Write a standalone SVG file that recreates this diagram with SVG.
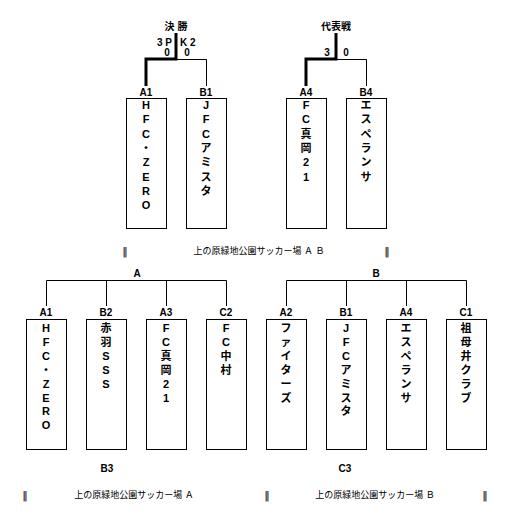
<svg xmlns="http://www.w3.org/2000/svg" width="517" height="529" viewBox="0 0 517 529">
<style>
text{font-family:"Liberation Sans","Noto Sans CJK JP",sans-serif;font-weight:bold;font-size:10px;fill:#000;text-anchor:middle}
.v{font-size:11px}
.s{font-weight:normal;font-size:9px}
.bar{font-family:"DejaVu Sans",sans-serif;font-weight:normal;font-size:11px}
.box{fill:#fff;stroke:#000;stroke-width:1}
.thin{fill:none;stroke:#000;stroke-width:1}
.thick{fill:none;stroke:#000;stroke-width:3}
</style>
<rect width="517" height="529" fill="#fff"/>
<g id="connectors">
<path class="thin" d="M176.5 33V59.5H206.5V86"/>
<path class="thick" d="M176 33V59H146V86"/>
<path class="thin" d="M336.5 33V59.5H366.5V86"/>
<path class="thick" d="M336 33V59H306V86"/>
<path class="thin" d="M46.5 306V280.5H226.5V306M106.5 280.5V306M166.5 280.5V306"/>
<path class="thin" d="M286.5 306V280.5H466.5V306M346.5 280.5V306M406.5 280.5V306"/>
</g>
<g id="final">
<text x="176" y="30">決 勝</text>
<text x="172" y="46" style="text-anchor:end">3 P</text>
<text x="180" y="46" style="text-anchor:start">K 2</text>
<text x="167" y="56">0</text>
<text x="187" y="56">0</text>
</g>
<g id="rep">
<text x="336" y="30">代表戦</text>
<text x="327" y="56">3</text>
<text x="346" y="56">0</text>
</g>
<g id="top-A1">
<text x="146" y="96">A1</text>
<rect class="box" x="126.5" y="98.5" width="40" height="130"/>
<text class="v"><tspan x="146" y="109">H</tspan><tspan x="146" dy="14.3">F</tspan><tspan x="146" dy="14.3">C</tspan><tspan x="146" dy="14.3">・</tspan><tspan x="146" dy="14.3">Z</tspan><tspan x="146" dy="14.3">E</tspan><tspan x="146" dy="14.3">R</tspan><tspan x="146" dy="14.3">O</tspan></text>
</g>
<g id="top-B1">
<text x="206" y="96">B1</text>
<rect class="box" x="186.5" y="98.5" width="40" height="130"/>
<text class="v"><tspan x="206" y="109">J</tspan><tspan x="206" dy="14.3">F</tspan><tspan x="206" dy="14.3">C</tspan><tspan x="206" dy="14.3">ア</tspan><tspan x="206" dy="14.3">ミ</tspan><tspan x="206" dy="14.3">ス</tspan><tspan x="206" dy="14.3">タ</tspan></text>
</g>
<g id="top-A4">
<text x="306" y="96">A4</text>
<rect class="box" x="286.5" y="98.5" width="40" height="130"/>
<text class="v"><tspan x="306" y="109">F</tspan><tspan x="306" dy="14.3">C</tspan><tspan x="306" dy="14.3">真</tspan><tspan x="306" dy="14.3">岡</tspan><tspan x="306" dy="14.3">2</tspan><tspan x="306" dy="14.3">1</tspan></text>
</g>
<g id="top-B4">
<text x="366" y="96">B4</text>
<rect class="box" x="346.5" y="98.5" width="40" height="130"/>
<text class="v"><tspan x="366" y="109">エ</tspan><tspan x="366" dy="14.3">ス</tspan><tspan x="366" dy="14.3">ペ</tspan><tspan x="366" dy="14.3">ラ</tspan><tspan x="366" dy="14.3">ン</tspan><tspan x="366" dy="14.3">サ</tspan></text>
</g>
<g id="venue-top">
<text class="bar" x="125" y="255">‖</text>
<text class="s" x="259" y="254">上の原緑地公園サッカー場 Ａ Ｂ</text>
<text class="bar" x="387" y="255">‖</text>
</g>
<g id="groupA">
<text x="137" y="277">A</text>
</g>
<g id="bot-A1">
<text x="46" y="316">A1</text>
<rect class="box" x="26.5" y="319.5" width="40" height="130"/>
<text class="v"><tspan x="46" y="332">H</tspan><tspan x="46" dy="13.9">F</tspan><tspan x="46" dy="13.9">C</tspan><tspan x="46" dy="13.9">・</tspan><tspan x="46" dy="13.9">Z</tspan><tspan x="46" dy="13.9">E</tspan><tspan x="46" dy="13.9">R</tspan><tspan x="46" dy="13.9">O</tspan></text>
</g>
<g id="bot-B2">
<text x="106" y="316">B2</text>
<rect class="box" x="86.5" y="319.5" width="40" height="130"/>
<text class="v"><tspan x="106" y="332">赤</tspan><tspan x="106" dy="13.9">羽</tspan><tspan x="106" dy="13.9">S</tspan><tspan x="106" dy="13.9">S</tspan><tspan x="106" dy="13.9">S</tspan></text>
</g>
<g id="bot-A3">
<text x="166" y="316">A3</text>
<rect class="box" x="146.5" y="319.5" width="40" height="130"/>
<text class="v"><tspan x="166" y="332">F</tspan><tspan x="166" dy="13.9">C</tspan><tspan x="166" dy="13.9">真</tspan><tspan x="166" dy="13.9">岡</tspan><tspan x="166" dy="13.9">2</tspan><tspan x="166" dy="13.9">1</tspan></text>
</g>
<g id="bot-C2">
<text x="226" y="316">C2</text>
<rect class="box" x="206.5" y="319.5" width="40" height="130"/>
<text class="v"><tspan x="226" y="332">F</tspan><tspan x="226" dy="13.9">C</tspan><tspan x="226" dy="13.9">中</tspan><tspan x="226" dy="13.9">村</tspan></text>
</g>
<g id="groupB">
<text x="376" y="277">B</text>
</g>
<g id="bot-A2">
<text x="286" y="316">A2</text>
<rect class="box" x="266.5" y="319.5" width="40" height="130"/>
<text class="v"><tspan x="286" y="332">フ</tspan><tspan x="286" dy="13.9">ァ</tspan><tspan x="286" dy="13.9">イ</tspan><tspan x="286" dy="13.9">タ</tspan><tspan x="286" dy="13.9">ー</tspan><tspan x="286" dy="13.9">ズ</tspan></text>
</g>
<g id="bot-B1">
<text x="346" y="316">B1</text>
<rect class="box" x="326.5" y="319.5" width="40" height="130"/>
<text class="v"><tspan x="346" y="332">J</tspan><tspan x="346" dy="13.9">F</tspan><tspan x="346" dy="13.9">C</tspan><tspan x="346" dy="13.9">ア</tspan><tspan x="346" dy="13.9">ミ</tspan><tspan x="346" dy="13.9">ス</tspan><tspan x="346" dy="13.9">タ</tspan></text>
</g>
<g id="bot-A4">
<text x="406" y="316">A4</text>
<rect class="box" x="386.5" y="319.5" width="40" height="130"/>
<text class="v"><tspan x="406" y="332">エ</tspan><tspan x="406" dy="13.9">ス</tspan><tspan x="406" dy="13.9">ペ</tspan><tspan x="406" dy="13.9">ラ</tspan><tspan x="406" dy="13.9">ン</tspan><tspan x="406" dy="13.9">サ</tspan></text>
</g>
<g id="bot-C1">
<text x="466" y="316">C1</text>
<rect class="box" x="446.5" y="319.5" width="40" height="130"/>
<text class="v"><tspan x="466" y="332">祖</tspan><tspan x="466" dy="13.9">母</tspan><tspan x="466" dy="13.9">井</tspan><tspan x="466" dy="13.9">ク</tspan><tspan x="466" dy="13.9">ラ</tspan><tspan x="466" dy="13.9">ブ</tspan></text>
</g>
<g id="note-B3"><text x="107" y="472">B3</text></g>
<g id="note-C3"><text x="345" y="472">C3</text></g>
<g id="venue-A">
<text class="bar" x="25" y="499">‖</text>
<text class="s" x="134" y="498">上の原緑地公園サッカー場 Ａ</text>
</g>
<g id="venue-B">
<text class="bar" x="267" y="499">‖</text>
<text class="s" x="375" y="498">上の原緑地公園サッカー場 Ｂ</text>
<text class="bar" x="485" y="499">‖</text>
</g>
</svg>
